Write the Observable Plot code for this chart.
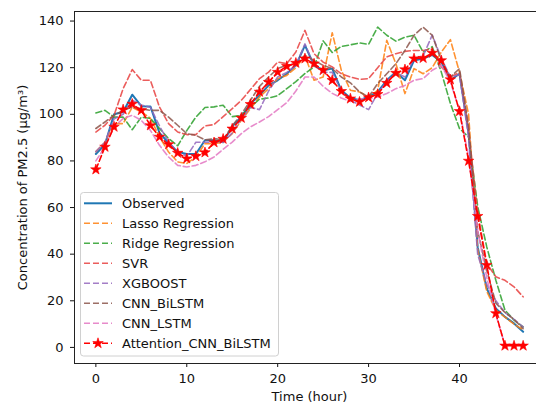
<!DOCTYPE html>
<html><head><meta charset="utf-8">
<script src="https://cdn.jsdelivr.net/npm/d3@7"></script>
<script src="https://cdn.jsdelivr.net/npm/@observablehq/plot@0.6"></script>
<style>
html,body{margin:0;padding:0;background:#fff;overflow:hidden}
#wrap{width:536px;height:405px;overflow:hidden;position:relative;background:#fff}
</style></head><body><div id="wrap"></div>
<script>
const hours = [0,1,2,3,4,5,6,7,8,9,10,11,12,13,14,15,16,17,18,19,20,21,22,23,24,25,26,27,28,29,30,31,32,33,34,35,36,37,38,39,40,41,42,43,44,45,46,47];
const seriesNames = ["Observed","Lasso Regression","Ridge Regression","SVR","XGBOOST","CNN_BiLSTM","CNN_LSTM","Attention_CNN_BiLSTM"];
const xTicks = [0,10,20,30,40];
const yTicks = [0,20,40,60,80,100,120,140];
const xLabel = "Time (hour)";
const yLabel = "Concentration of PM2.5 (μg/m³)";

const observed = [83,87,100,101,108.4,103.5,103.4,92,87.7,83.8,83,83,88.9,88.9,88,94.9,98.9,104.6,108.1,112.4,114.6,117.4,121,129.6,121,118.9,119.6,110.3,107,106,107.7,109.6,114.6,118.1,114.6,123.1,123.9,125.5,122.4,114.6,117.4,92,43,25.3,16.7,13.1,10.3,6.7];
const lasso = [84,88,96,96,103,101,98.3,90.3,83.8,79.6,78.9,81.7,87.4,87.4,88.1,91.7,97.4,102.4,107.4,111,115.3,116.7,120,125,114.6,116,135,118.9,110.3,109.6,107.4,110.3,131.7,121.7,108.9,119.6,117.4,120,126.7,132,118,100,42,24,16,13,10,7.5];
const ridge = [100.6,101.7,98.8,98.8,93.4,98.8,98.2,93.9,89.6,86.5,93,98.8,102.9,103.2,103.9,99,99.5,103,106.5,107,108,111,114,117.5,120.3,131.5,126.5,129.1,129.8,130.6,130,137.4,133.9,131.4,133.1,133.9,126.7,129,118.1,104.6,93.9,90.3,60.5,43.1,28.8,16,11.7,8.8];
const svr = [92.4,95.3,99.6,111,119.2,114.6,114.6,103.1,96,92.4,91.3,91.3,95,95.6,99,102.4,106,110.6,115.3,118.1,122.4,121.7,126.7,136,126,122.4,120.3,117.4,116,115,115.3,120,124.6,126,127,127.4,127.4,128,120.3,116,118,93,58,36,30.3,28.8,26,21.7];
const xgboost = [84,88,98,100,106,104,103,95,88,84,82,88,88,88,88,92,98,103,102,110,116,118,121,130.2,121,118,118,110,106,104,102,109,114,118,116,124,125,134,124,116,117,90,40,27,20,15,12,8.8];
const cnnBiLSTM = [93.9,96.7,99.6,101.7,103.1,102.4,101.7,101.7,98.8,95.3,91.7,91,89,89.6,89,95,100,106,112,116,119.6,121,121.7,125.3,123.1,121,119.6,116,113.5,109.6,107.4,113.2,117.4,121.7,127.4,133.9,137.4,133.9,123.1,116,119.6,95,50,33,19,15,12,8];
const cnnLSTM = [80,86,94.6,98.2,99.6,97.4,93.1,86.7,81.7,78.1,77.4,78.1,79.6,81.7,85,88.1,91.7,94.6,96.7,99,102,105,110,116,116,112,109,107,105.5,106.7,106.7,107.4,108.9,111,112.4,114.6,115.3,118.9,121,113.8,101.7,81.7,50,30,14,1,1,1];
const attention = [76.3,86,94.6,102,104.4,101.7,95.2,90.3,87.1,83.4,81,82,83.6,87.9,89.4,93.8,98.4,104.3,109.6,113.8,118.1,120.6,122,123.9,121.7,118.9,114.6,109.9,106.7,105.3,107.2,108.6,113.4,117.7,119.2,123.9,124.1,126.3,123.1,114.9,101.3,80,56.3,35.3,14.6,0.7,0.7,0.7];

const seriesValues = [observed,lasso,ridge,svr,xgboost,cnnBiLSTM,cnnLSTM,attention];
const colors = ["#1f77b4","#ff7f0e","#2ca02c","#e8413f","#9467bd","#8c564b","#e377c2","#ff0000"];

function rowsFor(k){ return hours.map((h,i)=>({hour:h, value:seriesValues[k][i], series:seriesNames[k]})); }

const lineMarks = seriesNames.map((name,k)=> {
  const solid = k===0;
  return Plot.line(rowsFor(k), {
    x:"hour", y:"value", stroke: colors[k],
    strokeWidth: solid ? 2 : 1.6,
    strokeOpacity: (solid || k===7) ? 1 : 0.85,
    strokeDasharray: solid ? null : "6,3"
  });
});

const plot = Plot.plot({
  width: 552, height: 405,
  marginLeft: 74, marginRight: 8, marginTop: 11, marginBottom: 42,
  style: {fontFamily: "DejaVu Sans", fontSize: "13px", color: "#111", background: "#fff", maxWidth: "none"},
  x: {domain: [-2.35, 49.35]},
  y: {domain: [-6.9, 144.1]},
  marks: [
    Plot.axisX({ticks: xTicks, tickSize: 4, tickPadding: 6, label: null, tickFormat: d => String(d)}),
    Plot.axisY({ticks: yTicks, tickSize: 4, tickPadding: 7, label: null, tickFormat: d => String(d)}),
    ...lineMarks,
    Plot.dot(rowsFor(7), {x:"hour", y:"value", symbol:"star", r:3.3, fill:"#ff0000", stroke:"#ff0000", strokeWidth:0.6}),
    Plot.frame({stroke:"#222", strokeWidth:1}),
    Plot.text([xLabel], {frameAnchor:"bottom", dy:33, text:d=>d, fill:"#111", textAnchor:"middle", lineAnchor:"middle"}),
    Plot.text([yLabel], {frameAnchor:"left", dx:-52, rotate:-90, text:d=>d, fill:"#111", textAnchor:"middle", lineAnchor:"middle"})
  ]
});
document.getElementById("wrap").appendChild(plot);

// legend
const svg = d3.select(plot);
const lg = svg.append("g").attr("font-family","DejaVu Sans").attr("font-size",13).attr("text-anchor","start");
lg.append("rect").attr("x",80.5).attr("y",192.5).attr("width",198).attr("height",163.5).attr("rx",3)
  .attr("fill","#fff").attr("fill-opacity",0.8).attr("stroke","#d0d0d0");
seriesNames.forEach((name,k)=>{
  const cy = 203.3 + 20*k;
  lg.append("line").attr("x1",84).attr("x2",112).attr("y1",cy).attr("y2",cy)
    .attr("stroke",colors[k]).attr("stroke-width", k===0?2:1.6)
    .attr("stroke-opacity", (k===0||k===7)?1:0.85)
    .attr("stroke-dasharray", k===0?null:"6,3");
  if (k===7) {
    lg.append("path").attr("d", d3.symbol(d3.symbolStar, Math.PI*3.3*3.3)()).attr("transform",`translate(98,${cy})`)
      .attr("fill","#ff0000").attr("stroke","#ff0000").attr("stroke-width",0.6);
  }
  lg.append("text").attr("x",122).attr("y",cy).attr("dy","0.35em").attr("fill","#111").attr("text-anchor","start").text(name);
});
</script></body></html>
